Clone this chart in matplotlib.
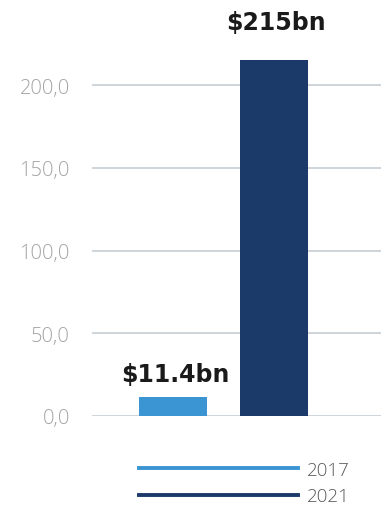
import matplotlib
matplotlib.use("Agg")
import matplotlib.pyplot as plt
from matplotlib.lines import Line2D

years = ["2017", "2021"]
values = [11.4, 215]
labels = ["$11.4bn", "$215bn"]
colors = ["#3b95d3", "#1c3a69"]
yticks = [0, 50, 100, 150, 200]


def fmt(v):
    return f"{v:.1f}".replace(".", ",")


fig = plt.figure(figsize=(3.81, 5.06), dpi=100)
ax = fig.add_axes([0.2415, 0.1759, 0.7585, 0.7522])

x = range(len(years))
ax.bar(x, values, width=0.673, color=colors, zorder=3)

# label gaps above bars, in points
gaps = [8, 19]
for i, (v, lab) in enumerate(zip(values, labels)):
    ax.annotate(lab, (i + 0.02, v), xytext=(0, gaps[i]), textcoords="offset points",
                ha="center", va="bottom", fontsize=17, fontweight="bold",
                color="#1a1a1a")

ax.set_xlim(-0.802, 2.059)
ax.set_ylim(0, 230)
ax.set_yticks(yticks)
ax.set_yticklabels([fmt(t) for t in yticks], color="#a3a3a3", fontsize=14.5,
                   family="Open Sans", fontweight=300)
ax.tick_params(axis="y", length=0, pad=16)
ax.set_xticks([])
ax.grid(axis="y", color="#c5ced6", linewidth=1.2, zorder=0)
for s in ax.spines.values():
    s.set_visible(False)

handles = [Line2D([0], [0], color=c, linewidth=2.8) for c in colors]
leg = fig.legend(handles, years, loc="center left",
                 bbox_to_anchor=(139 / 381, 1 - 484 / 506),
                 frameon=False, handlelength=8.5, handletextpad=0.45,
                 labelspacing=0.45, borderpad=0, borderaxespad=0,
                 prop={"family": "Open Sans", "weight": 300, "size": 13.5},
                 labelcolor="#5a5a5a")

fig.savefig("out.png", dpi=100)
